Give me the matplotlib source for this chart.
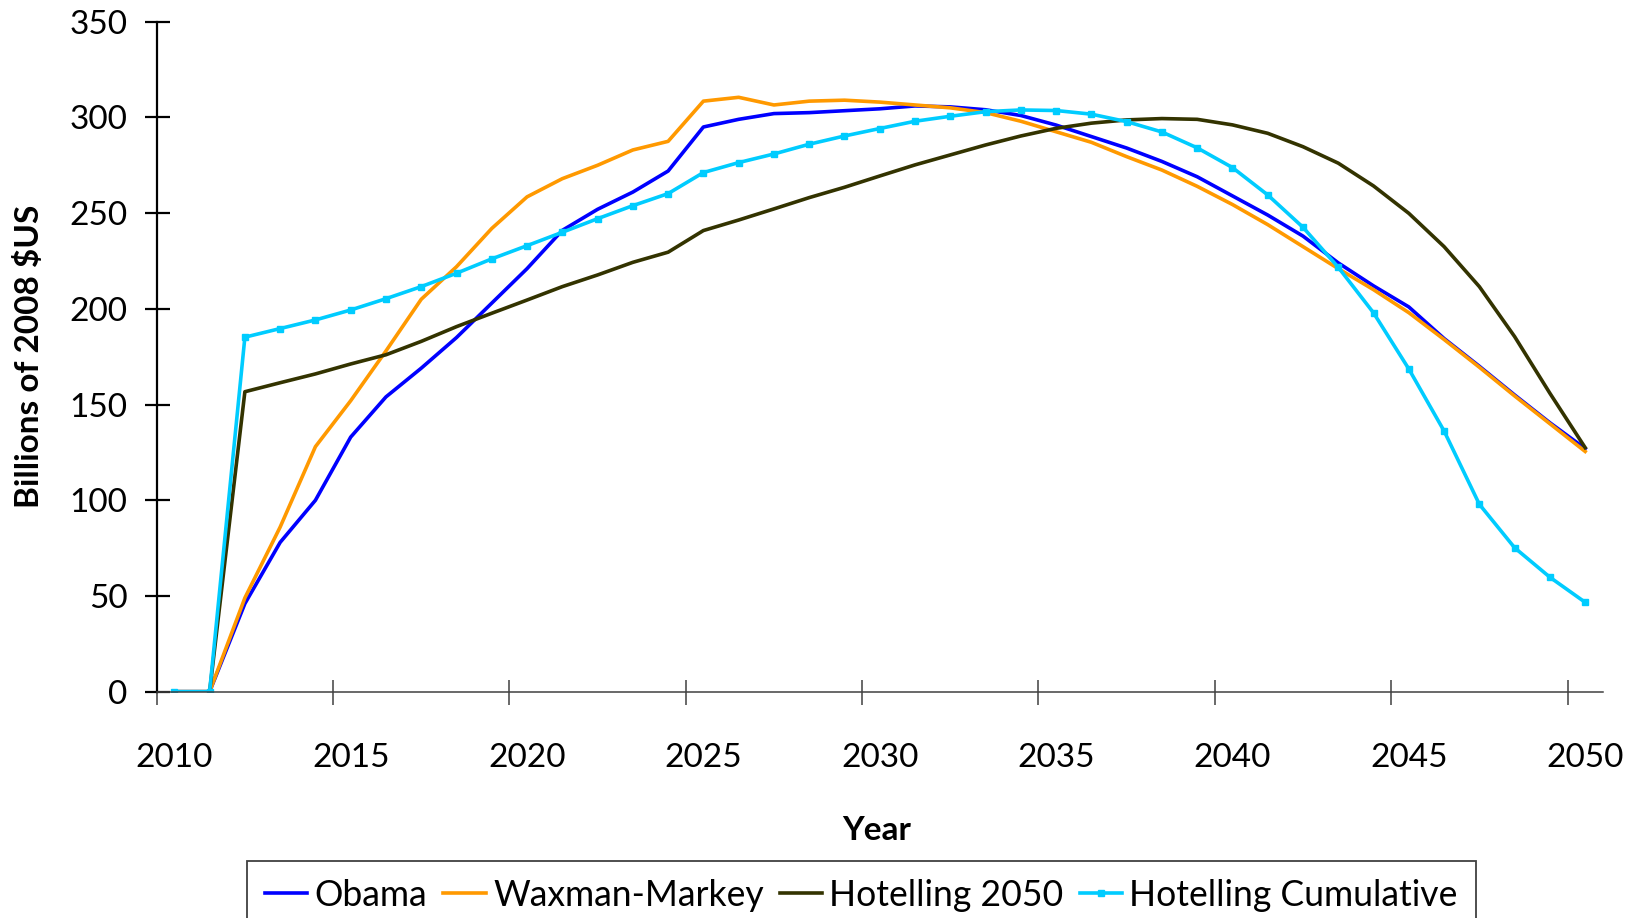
import matplotlib
matplotlib.use("Agg")
import matplotlib.pyplot as plt
import numpy as np

years = list(range(2010, 2051))

obama = [0, 0, 46, 78, 100, 133, 154, 169, 185, 203,
         221, 241, 252, 261, 272, 295, 299, 302, 302.5, 303.5,
         304.5, 306, 305.5, 304, 301, 296, 290, 284, 277, 269,
         259, 249, 238, 224, 212, 201, 184.5, 170, 155, 140.5,
         127]

waxman_markey = [0, 0, 49, 86, 128, 152, 178, 205, 222, 242,
                 258.5, 268, 275, 283, 287.5, 308.5, 310.5, 306.5, 308.5, 309,
                 308, 306.5, 305, 302.5, 298, 292.5, 287, 279.5, 272.5, 264,
                 254.5, 244, 232.5, 221, 210, 198, 184, 169.5, 154.5, 140,
                 125.5]

hotelling_2050 = [0, 0, 156.7, 161.4, 166, 171.2, 176, 183, 190.7, 197.7,
                  204.6, 211.6, 217.7, 224.3, 229.6, 240.9, 246.4, 252.2, 258.1, 263.5,
                  269.4, 275.2, 280.4, 285.6, 290.3, 294.3, 297, 298.7, 299.4, 299,
                  296.1, 291.7, 284.7, 276.1, 264.2, 249.9, 232.5, 211.6, 185.5, 155.9,
                  127.5]

hotelling_cumulative = [0, 0, 185.2, 189.7, 194.2, 199.4, 205.3, 211.6, 218.6, 226.1,
                        233, 240, 247.1, 253.9, 260.2, 271.2, 276.4, 280.9, 286, 290.3,
                        294.2, 298, 300.6, 303, 303.9, 303.6, 301.7, 297.8, 292.4, 284.1,
                        273.8, 259.5, 242.6, 221.7, 197.9, 168.6, 136.2, 97.9, 75.2, 59.8,
                        46.7]

year_labels = [2010, 2015, 2020, 2025, 2030, 2035, 2040, 2045, 2050]
y_ticks = [0, 50, 100, 150, 200, 250, 300, 350]

plt.rcParams['font.family'] = ['Lato', 'DejaVu Sans']

W, H = 1642, 918
fig = plt.figure(figsize=(W / 100, H / 100), dpi=100)
ax = fig.add_axes([156.7 / W, 1 - 691.7 / H, (1602.8 - 156.7) / W, (691.7 - 21.7) / H])

ax.plot(years, obama, color='#0000FF', lw=2.6, label='Obama')
ax.plot(years, waxman_markey, color='#FF9900', lw=2.6, label='Waxman-Markey')
ax.plot(years, hotelling_2050, color='#333300', lw=2.6, label='Hotelling 2050')
ax.plot(years, hotelling_cumulative, color='#00CCFF', lw=2.6, marker='s',
        markersize=4.8, label='Hotelling Cumulative')

ax.set_xlim(2009.5, 2050.5)
ax.set_ylim(0, 350)

for side in ('top', 'right'):
    ax.spines[side].set_visible(False)
ax.spines['left'].set_color('black')
ax.spines['left'].set_linewidth(1.6)
ax.spines['bottom'].set_color('#404040')
ax.spines['bottom'].set_linewidth(1.1)

# y axis: crossing ticks
ax.set_yticks(y_ticks)
ax.tick_params(axis='y', direction='inout', length=18, width=1.6, color='black',
               pad=12, labelsize=24)

# x axis: tick marks between year groups, labels centred on the years
ax.set_xticks(np.arange(2009.5, 2050, 5))
ax.set_xticklabels([])
ax.tick_params(axis='x', which='major', direction='inout', length=18, width=1.1,
               color='#404040')
ax.set_xticks(year_labels, minor=True)
ax.set_xticklabels([str(y) for y in year_labels], minor=True)
ax.tick_params(axis='x', which='minor', length=0, pad=37, labelsize=24)

fig.text(29 / W, 1 - 356 / H, 'Billions of 2008 $US', rotation=90, ha='center',
         va='center', fontsize=24, fontweight='bold')
fig.text(877 / W, 1 - 830 / H, 'Year', ha='center', va='center', fontsize=24,
         fontweight='bold')

leg = fig.legend(loc='upper left', bbox_to_anchor=(247 / W, 1 - 861 / H), ncol=4,
                 fontsize=25.6, frameon=True, fancybox=False, framealpha=1,
                 edgecolor='#404040', handlelength=1.2, handletextpad=0.2,
                 columnspacing=0.45, borderpad=0.5, borderaxespad=0)
leg.get_frame().set_linewidth(1.3)

fig.savefig('out.png', dpi=100)
